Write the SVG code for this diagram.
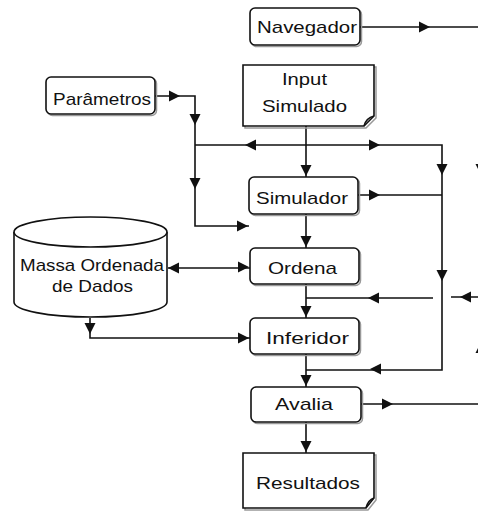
<svg xmlns="http://www.w3.org/2000/svg" width="478" height="513" viewBox="0 0 478 513">
<style>
.box{fill:#fff;stroke:#111;stroke-width:1.6}
.sh{fill:none;stroke:#999;stroke-width:1.5}
.t{font-family:"Liberation Sans",Arial,sans-serif;font-size:17px;fill:#111}
.ln{fill:none;stroke:#111;stroke-width:1.6}
</style>
<defs>
<path id="ah" d="M0,0 L-11,-5.5 L-11,5.5 Z" fill="#111"/>
</defs>
<rect width="478" height="513" fill="#fff"/>
<g id="connectors">
<path class="ln" d="M360,27 H478"/>
<path class="ln" d="M155,96 H195 V226 H249"/>
<path class="ln" d="M195,145 H442 V370 H306"/>
<path class="ln" d="M306,126 V177"/>
<path class="ln" d="M306,214 V248"/>
<path class="ln" d="M358,195 H442"/>
<path class="ln" d="M168,268 H250"/>
<path class="ln" d="M306,284 V318"/>
<path class="ln" d="M306,298 H433 M451,297 H478"/>
<path class="ln" d="M90,318 V338 H250"/>
<path class="ln" d="M306,354 V387"/>
<path class="ln" d="M361,404 H478"/>
<path class="ln" d="M306,422 V453"/>
<use href="#ah" transform="translate(430,27)"/>
<use href="#ah" transform="translate(180,96)"/>
<use href="#ah" transform="translate(195,125) rotate(90)"/>
<use href="#ah" transform="translate(195,189) rotate(90)"/>
<use href="#ah" transform="translate(245,145) rotate(180)"/>
<use href="#ah" transform="translate(380,145)"/>
<use href="#ah" transform="translate(306,176) rotate(90)"/>
<use href="#ah" transform="translate(442,175) rotate(90)"/>
<use href="#ah" transform="translate(380,195)"/>
<use href="#ah" transform="translate(248,226)"/>
<use href="#ah" transform="translate(306,247) rotate(90)"/>
<use href="#ah" transform="translate(442,281) rotate(90)"/>
<use href="#ah" transform="translate(168,268) rotate(180)"/>
<use href="#ah" transform="translate(249,267)"/>
<use href="#ah" transform="translate(368,298) rotate(180)"/>
<use href="#ah" transform="translate(460,297) rotate(180)"/>
<use href="#ah" transform="translate(306,317) rotate(90)"/>
<use href="#ah" transform="translate(90,334) rotate(90)"/>
<use href="#ah" transform="translate(249,338)"/>
<use href="#ah" transform="translate(370,369) rotate(180)"/>
<use href="#ah" transform="translate(306,386) rotate(90)"/>
<use href="#ah" transform="translate(393,404)"/>
<use href="#ah" transform="translate(306,452) rotate(90)"/>
<use href="#ah" transform="translate(481,175) rotate(90)"/>
<use href="#ah" transform="translate(481,342) rotate(-90)"/>
</g>
<g id="navegador">
<rect class="sh" x="251.5" y="9.5" width="110" height="37" rx="5"/>
<rect class="box" x="250" y="8" width="110" height="37" rx="5"/>
<text class="t" x="257" y="33" textLength="100" lengthAdjust="spacingAndGlyphs">Navegador</text>
</g>
<g id="input-simulado">
<path class="sh" d="M245,67 H376 V118 L366,128 H245 Z"/>
<path class="box" d="M243,65 H374 V116 L364,126 H243 Z"/>
<path class="ln" d="M364,126 Q366,118 374,116" stroke-width="1.2"/>
<text class="t" x="282" y="85" textLength="45" lengthAdjust="spacingAndGlyphs">Input</text>
<text class="t" x="262" y="112" textLength="85" lengthAdjust="spacingAndGlyphs">Simulado</text>
</g>
<g id="parametros">
<rect class="sh" x="47.5" y="78.5" width="109" height="37" rx="5"/>
<rect class="box" x="46" y="77" width="109" height="37" rx="5"/>
<text class="t" x="53" y="105" textLength="98" lengthAdjust="spacingAndGlyphs">Parâmetros</text>
</g>
<g id="simulador">
<rect class="sh" x="250.5" y="178.5" width="109" height="37" rx="5"/>
<rect class="box" x="249" y="177" width="109" height="37" rx="5"/>
<text class="t" x="256" y="204" textLength="92" lengthAdjust="spacingAndGlyphs">Simulador</text>
</g>
<g id="massa-ordenada">
<path class="box" d="M14,232 V302 A76.5,15 0 0 0 167,302 V232"/>
<ellipse class="box" cx="90.5" cy="232" rx="76.5" ry="15"/>
<text class="t" x="20" y="271" textLength="144" lengthAdjust="spacingAndGlyphs">Massa Ordenada</text>
<text class="t" x="52" y="292" textLength="81" lengthAdjust="spacingAndGlyphs">de Dados</text>
</g>
<g id="ordena">
<rect class="sh" x="251.5" y="249.5" width="109" height="36" rx="5"/>
<rect class="box" x="250" y="248" width="109" height="36" rx="5"/>
<text class="t" x="268" y="274" textLength="69" lengthAdjust="spacingAndGlyphs">Ordena</text>
</g>
<g id="inferidor">
<rect class="sh" x="251.5" y="319.5" width="109" height="36" rx="5"/>
<rect class="box" x="250" y="318" width="109" height="36" rx="5"/>
<text class="t" x="266" y="344" textLength="83" lengthAdjust="spacingAndGlyphs">Inferidor</text>
</g>
<g id="avalia">
<rect class="sh" x="252.5" y="388.5" width="110" height="35" rx="5"/>
<rect class="box" x="251" y="387" width="110" height="35" rx="5"/>
<text class="t" x="275" y="410" textLength="58" lengthAdjust="spacingAndGlyphs">Avalia</text>
</g>
<g id="resultados">
<path class="sh" d="M245,455 H376 V500 L368,510 H245 Z"/>
<path class="box" d="M243,453 H374 V498 L366,508 H243 Z"/>
<path class="ln" d="M366,508 Q368,500 374,498" stroke-width="1.2"/>
<text class="t" x="256" y="489" textLength="104" lengthAdjust="spacingAndGlyphs">Resultados</text>
</g>
</svg>
